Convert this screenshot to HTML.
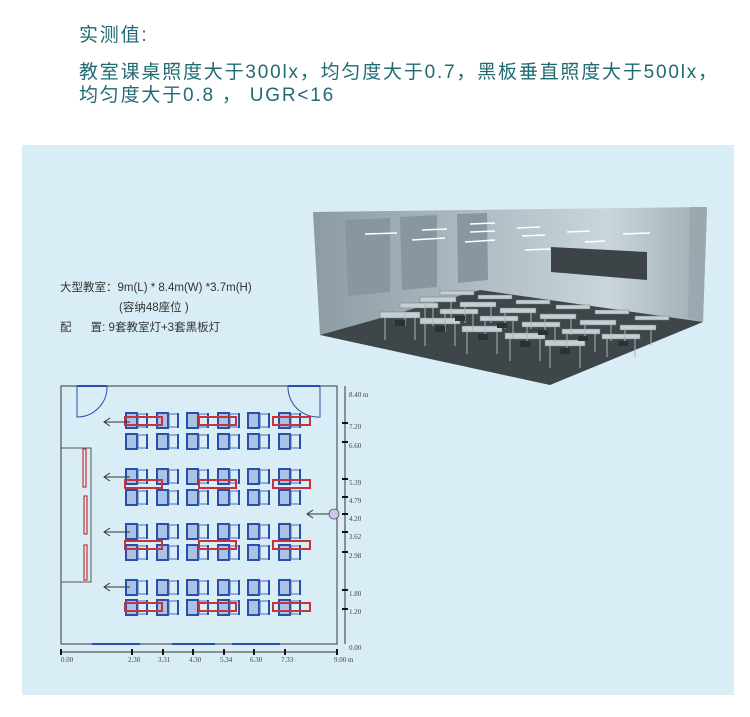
<!DOCTYPE html>
<html><head><meta charset="utf-8">
<style>
body{margin:0;width:750px;height:717px;background:#fff;position:relative;overflow:hidden;font-family:"Liberation Sans","Noto Sans CJK SC",sans-serif}
.t{position:absolute;color:#1f6b73;font-size:19px;left:79px;white-space:nowrap;letter-spacing:1.8px}
.panel{position:absolute;left:22px;top:145px;width:712px;height:550px;background:#d9edf7}
.s{position:absolute;color:#333;font-size:11.5px;white-space:nowrap}
</style></head><body>
<div class="t" style="top:20px">实测值:</div>
<div class="t" style="top:57px">教室课桌照度大于300lx，均匀度大于0.7，黑板垂直照度大于500lx，</div>
<div class="t" style="top:80px">均匀度大于0.8 ， UGR&lt;16</div>
<div class="panel"></div>
<div class="s" style="left:60px;top:279px">大型教室：9m(L) * 8.4m(W) *3.7m(H)</div>
<div class="s" style="left:119px;top:299px">(容纳48座位 )</div>
<div class="s" style="left:60px;top:319px">配&nbsp;&nbsp;&nbsp;&nbsp;&nbsp;&nbsp;置: 9套教室灯+3套黑板灯</div>
<svg width="750" height="717" style="position:absolute;left:0;top:0">
<defs>
<linearGradient id="wg" x1="0" x2="1" y1="0" y2="0"><stop offset="0" stop-color="#8d9ba3"/><stop offset="0.75" stop-color="#c9d6dc"/><stop offset="1" stop-color="#9eacb3"/></linearGradient>
<g id="c"><rect x="0" y="0" width="11" height="15" fill="#a9c3e6" stroke="#2a4fa8" stroke-width="2"/><rect x="12" y="1" width="9" height="13" fill="none" stroke="#4a6bb8" stroke-width="1"/><rect x="20" y="0" width="2" height="15" fill="#2a4fa8"/></g>
<g id="r"><use href="#c" x="0"/><use href="#c" x="31"/><use href="#c" x="61"/><use href="#c" x="92"/><use href="#c" x="122"/><use href="#c" x="153"/></g>
<g id="rr" fill="none" stroke="#c8323a" stroke-width="2"><rect x="0" y="0" width="37" height="8"/><rect x="74" y="0" width="37" height="8"/><rect x="148" y="0" width="37" height="8"/></g>
</defs>
<polygon points="313,212 707,207 703,322 320,335" fill="url(#wg)"/>
<polygon points="690,207 707,207 703,322 688,318" fill="#9aa8b0"/>
<polygon points="345,220 390,218 390,292 348,296" fill="#8796a0"/>
<polygon points="400,217 437,215 437,287 402,290" fill="#8796a0"/>
<polygon points="457,214 487,213 488,280 458,283" fill="#8796a0"/>
<polygon points="551,247 647,252 647,280 551,272" fill="#3c4448"/>
<polygon points="320,335 480,290 703,322 550,385" fill="#3f4649"/>
<g stroke="#fff" stroke-width="1.5"><line x1="365" y1="234" x2="397" y2="233"/><line x1="422" y1="230" x2="447" y2="229"/><line x1="412" y1="240" x2="445" y2="238"/><line x1="470" y1="224" x2="495" y2="223"/><line x1="470" y1="232" x2="495" y2="231"/><line x1="465" y1="242" x2="495" y2="240"/><line x1="517" y1="228" x2="540" y2="227"/><line x1="522" y1="236" x2="545" y2="235"/><line x1="525" y1="250" x2="550" y2="249"/><line x1="567" y1="232" x2="590" y2="231"/><line x1="585" y1="242" x2="605" y2="241"/><line x1="623" y1="234" x2="650" y2="233"/></g>
<g fill="#c5ced3" stroke="#6f7a80" stroke-width="0.5">
<rect x="380" y="312" width="40" height="6"/><rect x="420" y="318" width="40" height="6"/><rect x="462" y="326" width="40" height="6"/><rect x="505" y="333" width="40" height="6"/><rect x="545" y="340" width="40" height="6"/>
<rect x="400" y="303" width="38" height="5"/><rect x="440" y="309" width="38" height="5"/><rect x="480" y="316" width="38" height="5"/><rect x="522" y="322" width="38" height="5"/><rect x="562" y="329" width="38" height="5"/><rect x="602" y="334" width="38" height="5"/>
<rect x="420" y="297" width="36" height="5"/><rect x="460" y="302" width="36" height="5"/><rect x="500" y="308" width="36" height="5"/><rect x="540" y="314" width="36" height="5"/><rect x="580" y="320" width="36" height="5"/><rect x="620" y="325" width="36" height="5"/>
<rect x="440" y="291" width="34" height="4"/><rect x="478" y="295" width="34" height="4"/><rect x="516" y="300" width="34" height="4"/><rect x="556" y="305" width="34" height="4"/><rect x="595" y="310" width="34" height="4"/><rect x="635" y="316" width="34" height="4"/>
</g>
<g stroke="#aab4b9" stroke-width="1">
<path d="M385,318 v22 M415,318 v22 M425,324 v22 M455,324 v22 M467,332 v22 M497,332 v22 M510,339 v22 M540,339 v22 M550,346 v22 M580,346 v22"/>
<path d="M405,308 v18 M433,308 v18 M445,314 v18 M473,314 v18 M485,321 v18 M513,321 v18 M527,327 v18 M555,327 v18 M567,334 v18 M595,334 v18 M607,339 v18 M635,339 v18"/>
<path d="M425,302 v16 M451,302 v16 M465,307 v16 M491,307 v16 M505,313 v16 M531,313 v16 M545,319 v16 M571,319 v16 M585,325 v16 M611,325 v16 M625,330 v16 M651,330 v16"/>
</g>
<g fill="#2b3235"><rect x="395" y="320" width="10" height="6"/><rect x="435" y="326" width="10" height="6"/><rect x="478" y="334" width="10" height="6"/><rect x="520" y="341" width="10" height="6"/><rect x="560" y="348" width="10" height="6"/><rect x="455" y="316" width="10" height="5"/><rect x="497" y="323" width="10" height="5"/><rect x="538" y="330" width="10" height="5"/><rect x="578" y="336" width="10" height="5"/><rect x="618" y="341" width="10" height="5"/></g>
<rect x="61" y="386" width="276" height="258" fill="none" stroke="#555" stroke-width="1.2"/>
<g stroke="#2a4fa8" stroke-width="2"><line x1="77" y1="386" x2="107" y2="386"/><line x1="288" y1="386" x2="320" y2="386"/><line x1="92" y1="644" x2="140" y2="644"/><line x1="172" y1="644" x2="215" y2="644"/><line x1="232" y1="644" x2="280" y2="644"/></g>
<path d="M77,386 V417 A30,30 0 0 0 107,386" fill="none" stroke="#2a4fa8" stroke-width="1"/>
<path d="M320,386 V417 A30,30 0 0 1 288,386" fill="none" stroke="#2a4fa8" stroke-width="1"/>
<rect x="61" y="448" width="30" height="134" fill="none" stroke="#555" stroke-width="1"/>
<g fill="none" stroke="#c8323a" stroke-width="1.2"><rect x="83" y="449" width="3" height="38"/><rect x="84" y="496" width="3" height="38"/><rect x="84" y="545" width="3" height="35"/></g>
<use href="#r" x="126" y="413"/><use href="#r" x="126" y="434"/>
<use href="#r" x="126" y="469"/><use href="#r" x="126" y="490"/>
<use href="#r" x="126" y="524"/><use href="#r" x="126" y="545"/>
<use href="#r" x="126" y="580"/><use href="#r" x="126" y="600"/>
<use href="#rr" x="125" y="417"/><use href="#rr" x="125" y="480"/><use href="#rr" x="125" y="541"/><use href="#rr" x="125" y="603"/>
<g stroke="#333" stroke-width="1" fill="none"><path d="M105,422 H130 M110,418 L104,422 L110,426"/><path d="M105,477 H130 M110,473 L104,477 L110,481"/><path d="M105,532 H130 M110,528 L104,532 L110,536"/><path d="M105,587 H130 M110,583 L104,587 L110,591"/><path d="M308,514 H330 M313,510 L307,514 L313,518"/></g>
<circle cx="334" cy="514" r="5" fill="#c9c6ea" stroke="#555" stroke-width="0.8"/>
<g stroke="#333" stroke-width="1"><line x1="61" y1="652" x2="337" y2="652"/><line x1="345" y1="386" x2="345" y2="644"/></g>
<g stroke="#111" stroke-width="2"><line x1="61" y1="649" x2="61" y2="655"/><line x1="132" y1="649" x2="132" y2="655"/><line x1="163" y1="649" x2="163" y2="655"/><line x1="193" y1="649" x2="193" y2="655"/><line x1="224" y1="649" x2="224" y2="655"/><line x1="254" y1="649" x2="254" y2="655"/><line x1="285" y1="649" x2="285" y2="655"/><line x1="337" y1="649" x2="337" y2="655"/>
<line x1="342" y1="423" x2="348" y2="423"/><line x1="342" y1="442" x2="348" y2="442"/><line x1="342" y1="479" x2="348" y2="479"/><line x1="342" y1="497" x2="348" y2="497"/><line x1="342" y1="514" x2="348" y2="514"/><line x1="342" y1="532" x2="348" y2="532"/><line x1="342" y1="552" x2="348" y2="552"/><line x1="342" y1="590" x2="348" y2="590"/><line x1="342" y1="609" x2="348" y2="609"/></g>
<g font-family="Liberation Serif,serif" font-size="7" fill="#444">
<text x="61" y="662">0.00</text><text x="128" y="662">2.30</text><text x="158" y="662">3.31</text><text x="189" y="662">4.30</text><text x="220" y="662">5.34</text><text x="250" y="662">6.30</text><text x="281" y="662">7.33</text><text x="334" y="662">9.00 m</text>
<text x="349" y="397">8.40 m</text><text x="349" y="429">7.20</text><text x="349" y="448">6.60</text><text x="349" y="485">5.39</text><text x="349" y="503">4.79</text><text x="349" y="521">4.20</text><text x="349" y="539">3.62</text><text x="349" y="558">2.98</text><text x="349" y="596">1.80</text><text x="349" y="614">1.20</text><text x="349" y="650">0.00</text></g>
</svg>
</body></html>
